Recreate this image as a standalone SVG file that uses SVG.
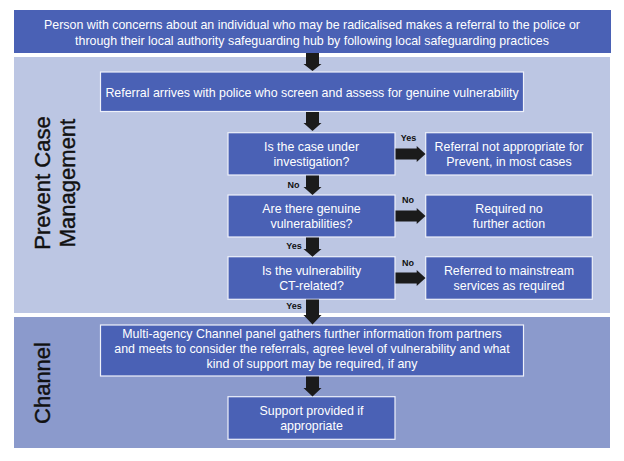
<svg xmlns="http://www.w3.org/2000/svg" width="624" height="461" viewBox="0 0 624 461">
<style>
.box{fill:#4a61b5;stroke:#eef1fa;stroke-width:1.2}
.bt{fill:#ffffff;font-family:"Liberation Sans",Arial,sans-serif;font-size:12.4px;text-anchor:middle}
.lbl{fill:#111;font-family:"Liberation Sans",Arial,sans-serif;font-size:9px;font-weight:bold;text-anchor:middle}
.side{fill:#111;font-family:"Liberation Sans",Arial,sans-serif;font-size:22px;stroke:#111;stroke-width:0.4}
.arr{fill:#1b1b1b}
</style>
<rect width="624" height="461" fill="#ffffff"/>
<g id="panel-prevent">
<rect x="14" y="57" width="596" height="256" fill="#bcc6e3"/>
<text class="side" transform="translate(50,183) rotate(-90)" text-anchor="middle">Prevent Case</text>
<text class="side" transform="translate(75,183) rotate(-90)" text-anchor="middle">Management</text>
</g>
<g id="panel-channel">
<rect x="14" y="317" width="596" height="131" fill="#8b9acc"/>
<text class="side" transform="translate(50,383) rotate(-90)" text-anchor="middle">Channel</text>
</g>
<g id="n-top">
<rect x="14" y="10" width="597" height="43" fill="#4a61b5"/>
<text class="bt" x="312" y="28.5">Person with concerns about an individual who may be radicalised makes a referral to the police or</text>
<text class="bt" x="312" y="44.5">through their local authority safeguarding hub by following local safeguarding practices</text>
</g>
<g id="n-referral">
<rect class="box" x="100.5" y="72" width="423" height="39.5"/>
<text class="bt" x="312" y="96.5">Referral arrives with police who screen and assess for genuine vulnerability</text>
</g>
<g id="n-q1">
<rect class="box" x="228" y="132.7" width="167" height="42.3"/>
<text class="bt" x="311.5" y="150.7">Is the case under</text>
<text class="bt" x="311.5" y="165.7">investigation?</text>
</g>
<g id="n-r1">
<rect class="box" x="425.7" y="132.7" width="166.6" height="42.3"/>
<text class="bt" x="509" y="150.7">Referral not appropriate for</text>
<text class="bt" x="509" y="165.7">Prevent, in most cases</text>
</g>
<g id="n-q2">
<rect class="box" x="228" y="195" width="167" height="42"/>
<text class="bt" x="311.5" y="212.7">Are there genuine</text>
<text class="bt" x="311.5" y="227.7">vulnerabilities?</text>
</g>
<g id="n-r2">
<rect class="box" x="425.7" y="195" width="166.6" height="42"/>
<text class="bt" x="509" y="212.7">Required no</text>
<text class="bt" x="509" y="227.7">further action</text>
</g>
<g id="n-q3">
<rect class="box" x="228" y="256.7" width="167" height="42.6"/>
<text class="bt" x="311.5" y="274.7">Is the vulnerability</text>
<text class="bt" x="311.5" y="289.7">CT-related?</text>
</g>
<g id="n-r3">
<rect class="box" x="425.7" y="256.7" width="166.6" height="42.6"/>
<text class="bt" x="509" y="274.7">Referred to mainstream</text>
<text class="bt" x="509" y="289.7">services as required</text>
</g>
<g id="n-panel">
<rect class="box" x="100.5" y="325" width="423" height="51"/>
<text class="bt" x="312" y="338.3">Multi-agency Channel panel gathers further information from partners</text>
<text class="bt" x="312" y="353.3">and meets to consider the referrals, agree level of vulnerability and what</text>
<text class="bt" x="312" y="368.3">kind of support may be required, if any</text>
</g>
<g id="n-support">
<rect class="box" x="228" y="396.7" width="167" height="42.6"/>
<text class="bt" x="311.5" y="415">Support provided if</text>
<text class="bt" x="311.5" y="430">appropriate</text>
</g>
<g id="connectors">
<polygon class="arr" points="306,53 319,53 319,64 321.5,64 312.5,71 303.5,64 306,64"/>
<polygon class="arr" points="306,112 319,112 319,123 321.5,123 312.5,131 303.5,123 306,123"/>
<polygon class="arr" points="306,175.5 319,175.5 319,187 321.5,187 312.5,195 303.5,187 306,187"/>
<polygon class="arr" points="306,237.5 319,237.5 319,249 321.5,249 312.5,256.7 303.5,249 306,249"/>
<polygon class="arr" points="306,299.5 319,299.5 319,315 321.5,315 312.5,324.5 303.5,315 306,315"/>
<polygon class="arr" points="306,376.5 319,376.5 319,388 321.5,388 312.5,396.5 303.5,388 306,388"/>
<polygon class="arr" points="395.5,148.5 416.7,148.5 416.7,146 425.5,154 416.7,162 416.7,159.5 395.5,159.5"/>
<polygon class="arr" points="395.5,210.5 416.7,210.5 416.7,208 425.5,216 416.7,224 416.7,221.5 395.5,221.5"/>
<polygon class="arr" points="395.5,272.5 416.7,272.5 416.7,270 425.5,278 416.7,286 416.7,283.5 395.5,283.5"/>
<text class="lbl" x="408.5" y="140.7">Yes</text>
<text class="lbl" x="408" y="203.3">No</text>
<text class="lbl" x="408" y="265.7">No</text>
<text class="lbl" x="293.5" y="187.7">No</text>
<text class="lbl" x="294" y="249">Yes</text>
<text class="lbl" x="294" y="309.3">Yes</text>
</g>
</svg>
